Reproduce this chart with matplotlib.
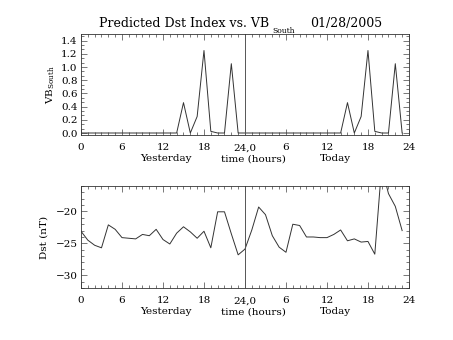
import numpy as np
import matplotlib
matplotlib.use("Agg")
import matplotlib.pyplot as plt
from matplotlib.ticker import MultipleLocator

plt.rcParams['font.family'] = ['DejaVu Serif']
plt.rcParams['mathtext.fontset'] = 'dejavuserif'

# hourly values, yesterday (0-23) followed by today (24-47)
hours = list(range(48))
vb_south = [0, 0, 0, 0, 0, 0, 0, 0, 0, 0, 0, 0, 0, 0, 0, 0.46, 0, 0.25, 1.25, 0.025, 0, 0, 1.05, 0,
            0, 0, 0, 0, 0, 0, 0, 0, 0, 0, 0, 0, 0, 0, 0, 0.46, 0, 0.25, 1.25, 0.025, 0, 0, 1.05, 0]
dst = [-23.1, -24.5, -25.3, -25.7, -22.1, -22.8, -24.1, -24.2, -24.3, -23.6, -23.8, -22.8,
       -24.4, -25.1, -23.4, -22.4, -23.2, -24.2, -23.1, -25.7, -20.05, -20.05, -23.5, -26.8,
       -25.9, -22.9, -19.3, -20.5, -23.8, -25.6, -26.4, -22.0, -22.2, -24.0, -24.0, -24.1,
       -24.1, -23.6, -22.9, -24.6, -24.3, -24.8, -24.7, -26.7, -13.0, -17.2, -19.2, -23.0]

xtick_pos = [0, 6, 12, 18, 24, 30, 36, 42, 48]
xtick_lab = ['0', '6', '12', '18', '24,0', '6', '12', '18', '24']
date_str = '01/28/2005'

fig = plt.figure(figsize=(4.53, 3.4), dpi=100)
ax1 = fig.add_axes([0.1788, 0.603, 0.724, 0.297])
ax2 = fig.add_axes([0.1788, 0.153, 0.724, 0.300])

def style(ax):
    ax.set_xlim(0, 48)
    ax.set_xticks(xtick_pos)
    ax.set_xticklabels(xtick_lab)
    ax.xaxis.set_minor_locator(MultipleLocator(1))
    ax.tick_params(which='both', direction='in', top=True, right=True,
                   labelsize=7.5, width=0.5, color='#444444')
    ax.tick_params(axis='x', pad=6)
    ax.tick_params(axis='y', pad=2.5)
    ax.tick_params(which='major', length=4)
    ax.tick_params(which='minor', length=2)
    for s in ax.spines.values():
        s.set_linewidth(0.6)
        s.set_color('#333333')
    ax.axvline(24, color='#555555', lw=0.7)
    tr = ax.get_xaxis_transform()
    ax.text(12.4, -0.19, 'Yesterday', transform=tr, ha='center', va='top', fontsize=7.5)
    ax.text(25.2, -0.19, 'time (hours)', transform=tr, ha='center', va='top', fontsize=7.5)
    ax.text(37.2, -0.19, 'Today', transform=tr, ha='center', va='top', fontsize=7.5)

ax1.plot(hours, vb_south, color='#333333', lw=0.7)
style(ax1)
ax1.set_ylim(-0.03, 1.5)
ax1.set_yticks([0.0, 0.2, 0.4, 0.6, 0.8, 1.0, 1.2, 1.4])
ax1.yaxis.set_minor_locator(MultipleLocator(0.2 / 3))
ax1.set_ylabel(r'VB$_{\mathrm{South}}$', fontsize=7.5, labelpad=3)

ax1.text(0.055, 1.04, 'Predicted Dst Index vs. VB', transform=ax1.transAxes,
         fontsize=9, ha='left', va='bottom')
ax1.text(0.585, 0.99, 'South', transform=ax1.transAxes,
         fontsize=5.5, ha='left', va='bottom')
ax1.text(0.70, 1.04, date_str, transform=ax1.transAxes,
         fontsize=9, ha='left', va='bottom')

ax2.plot(hours, dst, color='#333333', lw=0.7)
style(ax2)
ax2.set_ylim(-32, -16)
ax2.set_yticks([-30, -25, -20])
ax2.yaxis.set_minor_locator(MultipleLocator(1))
ax2.set_ylabel('Dst (nT)', fontsize=7.5, labelpad=5)

fig.savefig('out.png', dpi=100)
